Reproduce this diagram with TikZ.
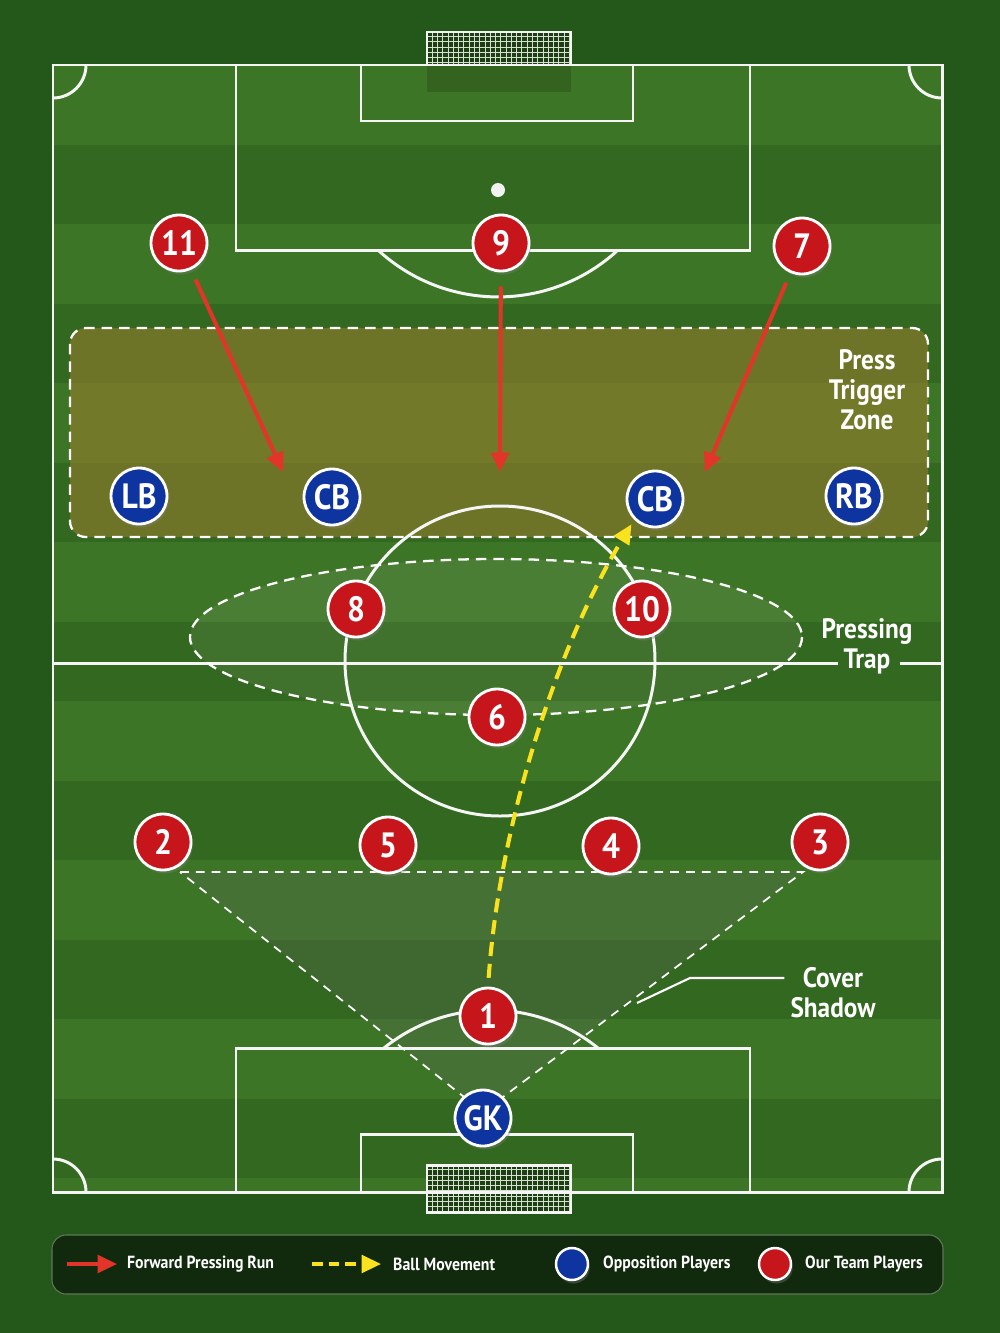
\documentclass[tikz,border=0pt]{standalone}
\usepackage{fontspec}
\setmainfont{PT Sans}[FakeStretch=0.9]
\usetikzlibrary{
arrows.meta,
calc,
patterns,
positioning,
shadows
}
\tikzset{>={Triangle[length=11pt,width=10pt]}}
\definecolor{outside}{RGB}{36,88,26}
\definecolor{grass}{RGB}{50,104,31}
\definecolor{grasslight}{RGB}{60,117,37}
\definecolor{ourred}{RGB}{198,22,28}
\definecolor{oppblue}{RGB}{14,52,160}
\definecolor{runred}{RGB}{226,52,40}
\definecolor{ballyellow}{RGB}{250,226,30}
\definecolor{zone}{RGB}{150,125,45}
\definecolor{legendbg}{RGB}{16,38,12}

\begin{document}
\begin{tikzpicture}[x=0.02cm, y=-0.02cm,
		line/.style={draw=white!92!gray, line width=1.7pt},
		dashedline/.style={draw=white, line width=1.3pt, dash pattern=on 6pt off 4pt},
		player/.style={circle, draw=white, line width=1.6pt, minimum size=1.12cm, inner sep=0, text=white, font=\bfseries\fontsize{20}{20}\selectfont, drop shadow={opacity=0.35, shadow xshift=1pt, shadow yshift=-2pt}},
		ours/.style={player, fill=ourred},
		theirs/.style={player, fill=oppblue},
		run/.style={->, draw=runred, line width=2.3pt},
		ball/.style={->, draw=ballyellow, line width=2.3pt, dash pattern=on 8pt off 4.5pt},
		zonelabel/.style={text=white, align=center, font=\bfseries\fontsize{16}{17}\selectfont},
		keytext/.style={anchor=west, text=white, font=\bfseries\fontsize{10}{12}\selectfont}]
		\useasboundingbox (0,0) rectangle (1000,1333);
		
		% grass and stripes
		\fill[outside] (0,0) rectangle (1000,1333);
		\fill[grass] (53,65) rectangle (942,1192);
		\foreach \i in {0,2,...,14}
			\fill[grasslight] (53,{65+\i*79.5}) rectangle (942,{min(1192,65+(\i+1)*79.5)});
		
		% goals
		\fill[black, opacity=0.15] (427,65) rectangle (571,92);
		\fill[grass!60!black] (427,32) rectangle (571,65);
		\fill[pattern=grid, pattern color=white!80!grass] (427,32) rectangle (571,65);
		\draw[line] (427,65) |- (571,32) -- (571,65);
		\fill[grass!60!black] (427,1165) rectangle (571,1212);
		\fill[pattern=grid, pattern color=white!80!grass] (427,1165) rectangle (571,1212);
		\draw[line] (427,1165) rectangle (571,1212);
		
		% shaded zones
		\fill[zone, opacity=0.6, rounded corners=9pt] (70,328) rectangle (928,537);
		\fill[white, opacity=0.07] (496,637) ellipse[x radius=306, y radius=78];
		\coordinate (csl) at (180,872);
		\coordinate (csr) at (803,872);
		\coordinate (csa) at (483,1112);
		\fill[gray!80!black, opacity=0.25] (csl) -- (csr) -- (csa) -- cycle;
		
		% pitch markings
		\draw[line] (53,65) rectangle (942,1192);
		\draw[line] (236,65) |- (750,250) -- (750,65);
		\draw[line] (361,65) |- (633,121) -- (633,65);
		\fill[white!90!gray] (498,190) circle[radius=7];
		\draw[line] (618,250) arc[start angle=47.3, end angle=132.7, radius=177];
		\draw[line] (236,1192) |- (750,1048) -- (750,1192);
		\draw[line] (361,1192) |- (633,1134) -- (633,1192);
		\draw[line] (384,1048) arc[start angle=-129, end angle=-51, radius=170];
		\draw[line] (500,661) circle[radius=155];
		\draw[line] (86,65) arc[start angle=0, end angle=90, radius=33];
		\draw[line] (909,65) arc[start angle=180, end angle=90, radius=33];
		\draw[line] (86,1192) arc[start angle=0, end angle=-90, radius=33];
		\draw[line] (909,1192) arc[start angle=180, end angle=270, radius=33];
		\draw[line] (53,663) -- (838,663);
		\draw[line] (900,663) -- (942,663);
		
		% press trigger zone
		\draw[dashedline, rounded corners=9pt] (70,328) rectangle (928,537);
		\node[zonelabel] (zonetxt) at (867,390) {Press\\Trigger\\Zone};
		
		% pressing trap
		\draw[dashedline] (496,637) ellipse[x radius=306, y radius=78];
		\node[zonelabel] (traptxt) at (867,646) {Pressing\\Trap};
		
		% cover shadow
		\draw[dashedline, line width=1pt, dash pattern=on 5pt off 4pt] (csl) -- (csr) -- (csa) -- cycle;
		\node[zonelabel] (covertxt) at (833,993) {Cover\\Shadow};
		\coordinate (covera) at (637,1003);
		\coordinate (coverb) at (690,978);
		\draw[white, line width=1.2pt] (covera) -- (coverb) -- (covertxt.west |- coverb);
		
		% opposition
		\node[theirs] (lb) at (139,496) {LB};
		\node[theirs] (cbl) at (332,497) {CB};
		\node[theirs] (cbr) at (655,499) {CB};
		\node[theirs] (rb) at (854,496) {RB};
		\node[theirs] (gk) at (483,1118) {GK};
		
		% our team
		\node[ours] (p11) at (179,243) {11};
		\node[ours] (p9) at (501,243) {9};
		\node[ours] (p7) at (802,246) {7};
		\node[ours] (p8) at (356,609) {8};
		\node[ours] (p10) at (642,609) {10};
		\node[ours] (p6) at (497,717) {6};
		\node[ours] (p2) at (163,842) {2};
		\node[ours] (p5) at (388,845) {5};
		\node[ours] (p4) at (611,846) {4};
		\node[ours] (p3) at (820,842) {3};
		\node[ours] (p1) at (488,1016) {1};
		
		% pressing runs
		\coordinate (t11) at (283,472);
		\coordinate (t9) at (500,472);
		\coordinate (t7) at (705,472);
		\draw[run, shorten <=6pt] (p11) -- (t11);
		\draw[run, shorten <=8pt] (p9) -- (t9);
		\draw[run, shorten <=6pt] (p7) -- (t7);
		
		% ball
		\draw[ball, shorten <=5pt, shorten >=3pt] (p1.north) .. controls (500,820) and (558,645) .. (cbr.south west);
		
		% legend
		\filldraw[fill=legendbg, fill opacity=0.9, draw=gray!60!grass, line width=0.6pt, rounded corners=8pt] (52,1235) rectangle (943,1294);
		\coordinate (k1a) at (67,1264);
		\coordinate (k1b) at (117,1264);
		\draw[run, line width=2pt] (k1a) -- (k1b);
		\node[keytext] (k1) at (121,1264) {Forward Pressing Run};
		\coordinate (k2a) at (312,1264);
		\coordinate (k2b) at (381,1264);
		\draw[ball, line width=2pt, dash pattern=on 6pt off 3.5pt] (k2a) -- (k2b);
		\node[keytext] (k2) at (387,1264) {Ball Movement};
		\node[theirs, minimum size=0.64cm, line width=1.4pt, drop shadow={opacity=0}] (k3c) at (572,1264) {};
		\node[keytext] (k3) at (597,1264) {Opposition Players};
		\node[ours, minimum size=0.64cm, line width=1.4pt, drop shadow={opacity=0}] (k4c) at (775,1264) {};
		\node[keytext] (k4) at (799,1264) {Our Team Players};
	\end{tikzpicture}
\end{document}
